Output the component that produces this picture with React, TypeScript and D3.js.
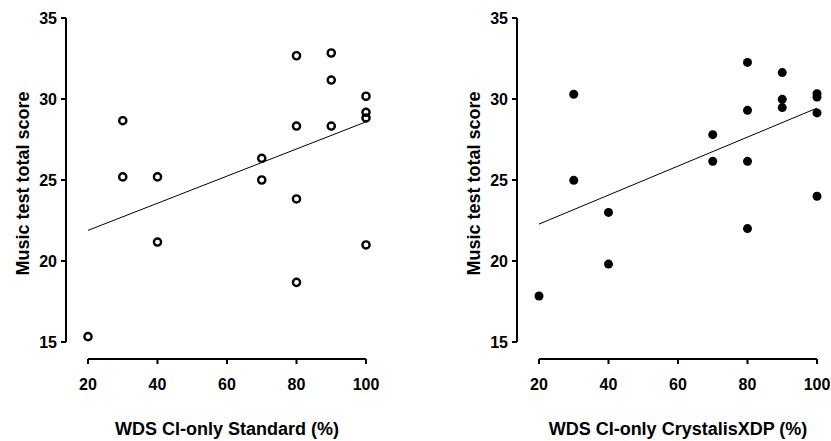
import React from "react";
import * as d3 from "d3";

const stdX = [20, 30, 30, 40, 40, 70, 70, 80, 80, 80, 80, 90, 90, 90, 100, 100, 100, 100];
const stdY = [15.33, 28.66, 25.19, 25.19, 21.17, 26.34, 25.0, 32.67, 28.33, 23.83, 18.68, 32.84, 31.17, 28.33, 30.17, 29.18, 28.83, 20.99];

const xdpX = [20, 30, 30, 40, 40, 70, 70, 80, 80, 80, 80, 90, 90, 90, 100, 100, 100, 100];
const xdpY = [17.84, 30.29, 24.98, 23.0, 19.81, 27.8, 26.15, 32.26, 29.3, 26.15, 22.0, 31.63, 29.98, 29.47, 30.33, 30.12, 29.14, 24.0];

const xTicks = [20, 40, 60, 80, 100];
const yTicks = [15, 20, 25, 30, 35];
const yTitle = "Music test total score";
const xTitles = ["WDS CI-only Standard (%)", "WDS CI-only CrystalisXDP (%)"];

const FONT = "'Liberation Sans', Arial, sans-serif";

function regress(xs: number[], ys: number[]) {
  const mx = d3.mean(xs)!;
  const my = d3.mean(ys)!;
  let sxy = 0, sxx = 0;
  xs.forEach((x, i) => {
    sxy += (x - mx) * (ys[i] - my);
    sxx += (x - mx) * (x - mx);
  });
  const b = sxy / sxx;
  const a = my - b * mx;
  return (x: number) => a + b * x;
}

function Panel({ ox, xs, ys, filled, title }: { ox: number; xs: number[]; ys: number[]; filled: boolean; title: string }) {
  const x = d3.scaleLinear().domain([20, 100]).range([ox + 22, ox + 300]);
  const y = d3.scaleLinear().domain([15, 35]).range([342, 18]);
  const axX = ox;
  const axY = 359;
  const f = regress(xs, ys);
  const line = d3.line<number>().x((d) => x(d)).y((d) => y(f(d)));
  return (
    <g>
      <line x1={axX} x2={axX} y1={y(15)} y2={y(35)} stroke="#000" strokeWidth={2} />
      {yTicks.map((t) => (
        <g key={t}>
          <line x1={axX - 5} x2={axX} y1={y(t)} y2={y(t)} stroke="#000" strokeWidth={2} />
          <text x={axX - 9} y={y(t)} dy="0.36em" textAnchor="end" fontFamily={FONT} fontWeight="bold" fontSize={16}>
            {t}
          </text>
        </g>
      ))}
      <line x1={x(20)} x2={x(100)} y1={axY} y2={axY} stroke="#000" strokeWidth={2} />
      {xTicks.map((t) => (
        <g key={t}>
          <line x1={x(t)} x2={x(t)} y1={axY} y2={axY + 5} stroke="#000" strokeWidth={2} />
          <text x={x(t)} y={384} dy="0.36em" textAnchor="middle" fontFamily={FONT} fontWeight="bold" fontSize={16}>
            {t}
          </text>
        </g>
      ))}
      <text
        transform={`translate(${ox - 43},183.5) rotate(-90)`}
        textAnchor="middle"
        dy="0.36em"
        fontFamily={FONT}
        fontWeight="bold"
        fontSize={18}
      >
        {yTitle}
      </text>
      <text x={ox + 161} y={429} dy="0.36em" textAnchor="middle" fontFamily={FONT} fontWeight="bold" fontSize={18}>
        {title}
      </text>
      <path d={line([20, 100]) || ""} stroke="#000" strokeWidth={1} fill="none" />
      {xs.map((xv, i) =>
        filled ? (
          <circle key={i} cx={x(xv)} cy={y(ys[i])} r={4.5} fill="#000" />
        ) : (
          <circle key={i} cx={x(xv)} cy={y(ys[i])} r={3.6} fill="none" stroke="#000" strokeWidth={2.4} />
        )
      )}
    </g>
  );
}

export default function App() {
  return (
    <svg width={831} height={441} style={{ position: "absolute", left: 0, top: 0, background: "#fff" }}>
      <rect width={831} height={441} fill="#fff" />
      <Panel ox={66} xs={stdX} ys={stdY} filled={false} title={xTitles[0]} />
      <Panel ox={517} xs={xdpX} ys={xdpY} filled={true} title={xTitles[1]} />
    </svg>
  );
}
